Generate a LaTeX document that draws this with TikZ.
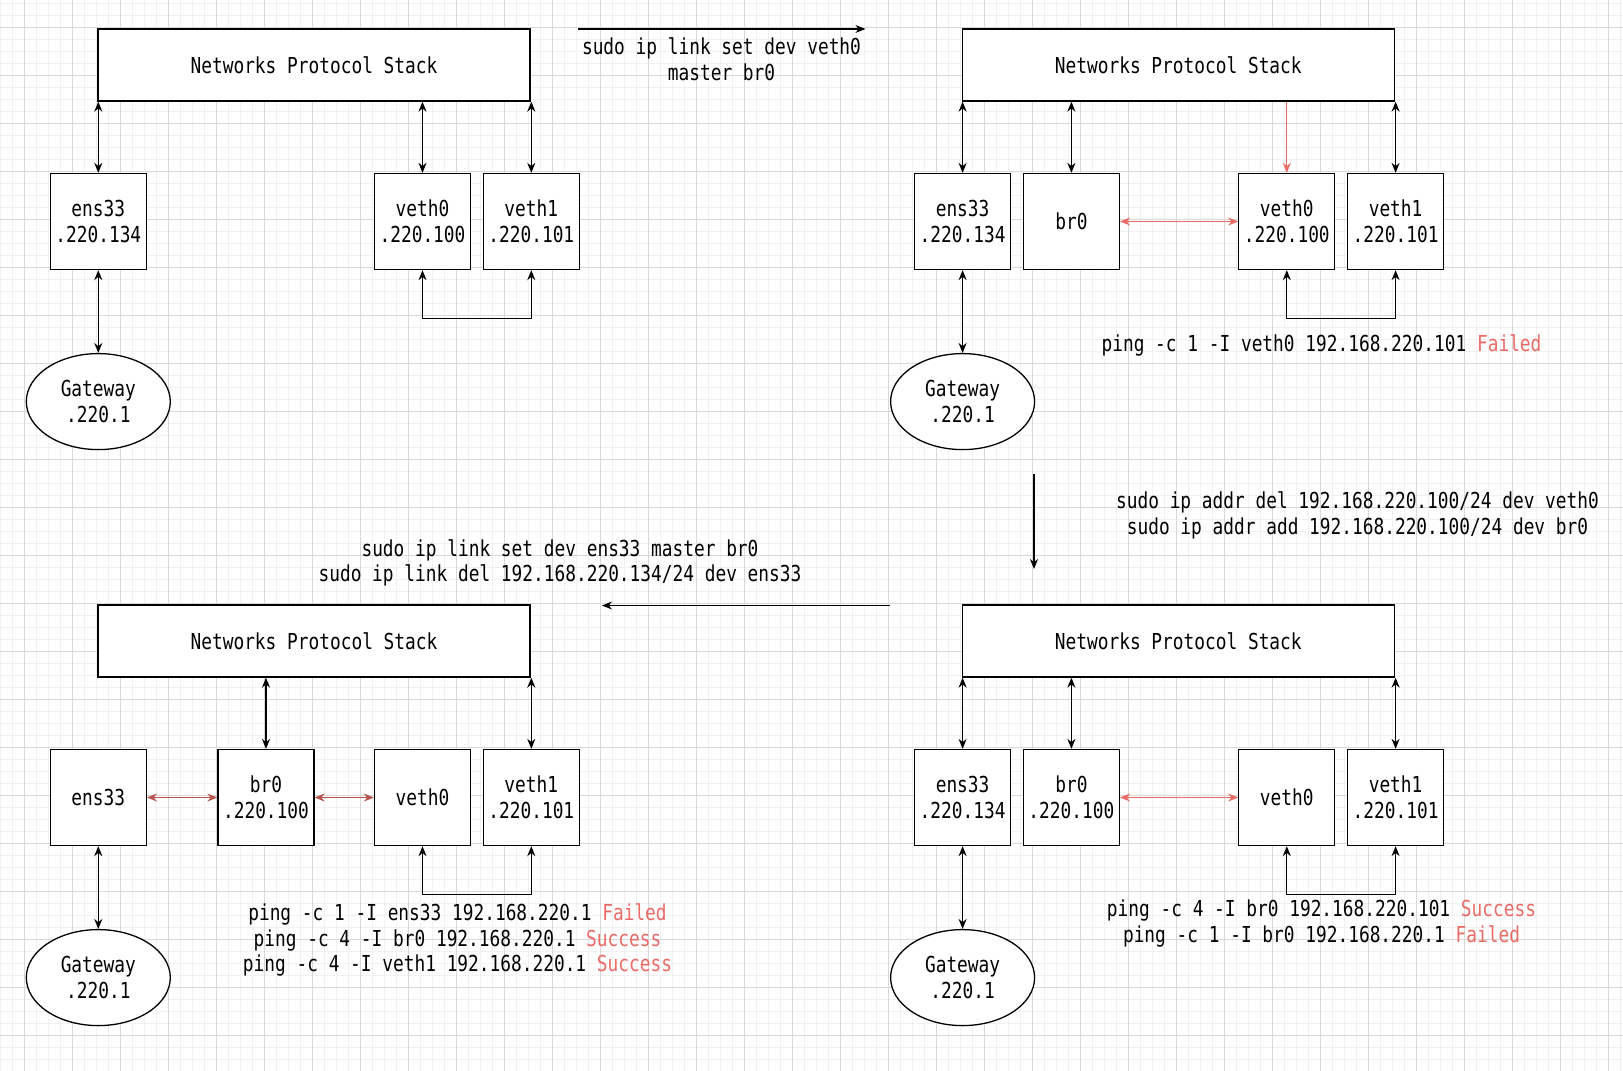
\documentclass[tikz,border=0pt]{standalone}
\usepackage{fontspec}
\usepackage{tikz}
\usetikzlibrary{arrows.meta}
\usetikzlibrary{positioning}
\usetikzlibrary{shapes}

\newfontfamily\diagfont[FakeStretch=0.81]{DejaVu Sans Mono}
\definecolor{okred}{HTML}{EA6B66}
\definecolor{darkred}{HTML}{B85450}
\definecolor{gridminor}{HTML}{F1F1F1}
\definecolor{gridmajor}{HTML}{D8D8D8}
\newcommand{\res}[1]{\textcolor{okred}{#1}}

\tikzset{
  dev/.style={draw, fill=white, line width=1.3pt, minimum width=96pt, minimum height=96pt, inner sep=0pt, align=center},
  stack/.style={draw, fill=white, line width=1.3pt, minimum width=432pt, minimum height=72pt},
  gw/.style={draw, fill=white, ellipse, line width=1.3pt, minimum width=144pt, minimum height=96pt, inner sep=0pt, align=center},
  cmd/.style={align=center},
  wire/.style={<->, line width=1.3pt},
  redwire/.style={<->, line width=1.3pt, draw=okred},
}

\begin{document}
\begin{tikzpicture}[x=1pt, y=-1pt, >={Stealth[length=10pt,width=8pt]},
  every node/.style={font=\diagfont\fontsize{22}{25.5}\selectfont}]
\useasboundingbox (0,0) rectangle (1623,1071);
\fill[white] (0,0) rectangle (1623,1071);
% grid
\foreach \gx in {0,12,...,1620} \draw[gridminor, line width=1pt] (\gx,0) -- (\gx,1071);
\foreach \gy in {3,15,...,1071} \draw[gridminor, line width=1pt] (0,\gy) -- (1623,\gy);
\foreach \gx in {24,72,...,1608} \draw[gridmajor, line width=1pt] (\gx,0) -- (\gx,1071);
\foreach \gy in {27,75,...,1059} \draw[gridmajor, line width=1pt] (0,\gy) -- (1623,\gy);

% top left
\node[name=tl_stack, stack] at (314,65) {Networks Protocol Stack};
\node[name=tl_ens33, dev] at (98.3,221.5) {ens33\\.220.134};
\node[name=tl_veth0, dev] at (422.5,221.5) {veth0\\.220.100};
\node[name=tl_veth1, dev, right=11.5pt of tl_veth0] {veth1\\.220.101};
\node[name=tl_gw, gw] at (98.3,401.6) {Gateway\\.220.1};

\draw(tl_stack.south -| tl_ens33.north) edge[wire](tl_ens33.north);
\draw(tl_stack.south -| tl_veth0.north) edge[wire](tl_veth0.north);
\draw(tl_stack.south -| tl_veth1.north) edge[wire](tl_veth1.north);
\draw(tl_ens33.south) edge[wire](tl_gw.north);
\draw[wire](tl_veth0.south) -- ++(0,48) -| (tl_veth1.south);

\coordinate (cmd_1_from) at (577.6,29);
\coordinate (cmd_1_to) at (865.4,29);
\draw(cmd_1_from) edge[->, line width=1.3pt](cmd_1_to);
\node[name=cmd_1, cmd] at (721.5,59) {sudo ip link set dev veth0\\master br0};

% top right
\node[name=tr_stack, stack] at (1178.3,65) {Networks Protocol Stack};
\node[name=tr_ens33, dev] at (962.6,221.5) {ens33\\.220.134};
\node[name=tr_br0, dev, right=11.5pt of tr_ens33] {br0};
\node[name=tr_veth0, dev] at (1286.8,221.5) {veth0\\.220.100};
\node[name=tr_veth1, dev, right=11.5pt of tr_veth0] {veth1\\.220.101};
\node[name=tr_gw, gw] at (962.6,401.6) {Gateway\\.220.1};
\node[name=tr_ping, cmd] at (1321.5,345.7) {ping -c 1 -I veth0 192.168.220.101 \res{Failed}};

\draw(tr_stack.south -| tr_ens33.north) edge[wire](tr_ens33.north);
\draw(tr_stack.south -| tr_br0.north) edge[wire](tr_br0.north);
\draw(tr_stack.south -| tr_veth0.north) edge[->, draw=okred, line width=1pt](tr_veth0.north);
\draw(tr_stack.south -| tr_veth1.north) edge[wire](tr_veth1.north);
\draw(tr_br0.east) edge[redwire](tr_veth0.west);
\draw(tr_ens33.south) edge[wire](tr_gw.north);
\draw[wire](tr_veth0.south) -- ++(0,48) -| (tr_veth1.south);

\coordinate (cmd_2_from) at (1034,474);
\coordinate (cmd_2_to) at (1034,569);
\draw(cmd_2_from) edge[->, line width=1.3pt](cmd_2_to);
\node[name=cmd_2, cmd] at (1357.5,515.5) {sudo ip addr del 192.168.220.100/24 dev veth0\\sudo ip addr add 192.168.220.100/24 dev br0};

% bottom right
\node[name=br_stack, stack] at (1178.3,641) {Networks Protocol Stack};
\node[name=br_ens33, dev] at (962.6,797.5) {ens33\\.220.134};
\node[name=br_br0, dev, right=11.5pt of br_ens33] {br0\\.220.100};
\node[name=br_veth0, dev] at (1286.8,797.5) {veth0};
\node[name=br_veth1, dev, right=11.5pt of br_veth0] {veth1\\.220.101};
\node[name=br_gw, gw] at (962.6,977.6) {Gateway\\.220.1};
\node[name=br_ping, cmd] at (1321.5,923.5) {ping -c 4 -I br0 192.168.220.101 \res{Success}\\ping -c 1 -I br0 192.168.220.1 \res{Failed}};

\draw(br_stack.south -| br_ens33.north) edge[wire](br_ens33.north);
\draw(br_stack.south -| br_br0.north) edge[wire](br_br0.north);
\draw(br_stack.south -| br_veth1.north) edge[wire](br_veth1.north);
\draw(br_br0.east) edge[redwire](br_veth0.west);
\draw(br_ens33.south) edge[wire](br_gw.north);
\draw[wire](br_veth0.south) -- ++(0,48) -| (br_veth1.south);

\coordinate (cmd_3_from) at (890,605.5);
\coordinate (cmd_3_to) at (602,605.5);
\draw(cmd_3_from) edge[->, line width=1.3pt](cmd_3_to);
\node[name=cmd_3, cmd] at (560,563) {sudo ip link set dev ens33 master br0\\sudo ip link del 192.168.220.134/24 dev ens33};

% bottom left
\node[name=bl_stack, stack] at (314,641) {Networks Protocol Stack};
\node[name=bl_ens33, dev] at (98.3,797.5) {ens33};
\node[name=bl_br0, dev] at (266,797.5) {br0\\.220.100};
\node[name=bl_veth0, dev] at (422.5,797.5) {veth0};
\node[name=bl_veth1, dev, right=11.5pt of bl_veth0] {veth1\\.220.101};
\node[name=bl_gw, gw] at (98.3,977.6) {Gateway\\.220.1};
\node[name=bl_ping, cmd] at (457.5,940) {ping -c 1 -I ens33 192.168.220.1 \res{Failed}\\ping -c 4 -I br0 192.168.220.1 \res{Success}\\ping -c 4 -I veth1 192.168.220.1 \res{Success}};

\draw(bl_stack.south -| bl_br0.north) edge[wire](bl_br0.north);
\draw(bl_stack.south -| bl_veth1.north) edge[wire](bl_veth1.north);
\draw(bl_ens33.east) edge[<->, line width=1.3pt, draw=darkred](bl_br0.west);
\draw(bl_br0.east) edge[<->, line width=1.3pt, draw=darkred](bl_veth0.west);
\draw(bl_ens33.south) edge[wire](bl_gw.north);
\draw[wire](bl_veth0.south) -- ++(0,48) -| (bl_veth1.south);
\end{tikzpicture}
\end{document}
